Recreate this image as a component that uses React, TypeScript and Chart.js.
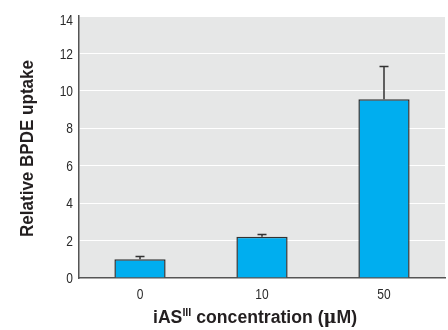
import React, { useEffect, useRef } from "react";
import { Chart, registerables } from "chart.js";

Chart.register(...registerables);

const categories = ["0", "10", "50"];
const uptake = [1.0, 2.2, 9.55];
const errorUpper = [0.15, 0.13, 1.75];
const yTicks = [0, 2, 4, 6, 8, 10, 12, 14];
const yTitle = "Relative BPDE uptake";
const xTitleParts = ["iAS", "III", " concentration (", "\u03bc", "M)"];

const TICK_FONT = '15px "Liberation Sans", Arial, sans-serif';
const TICK_SCALE = 0.8;

const bgPlugin = {
  id: "plotBg",
  beforeDraw(chart: any) {
    const { ctx, chartArea } = chart;
    ctx.save();
    ctx.fillStyle = "#e6e7e7";
    ctx.fillRect(chartArea.left, chartArea.top, chartArea.right - chartArea.left, chartArea.bottom - chartArea.top);
    ctx.restore();
  },
};

const errPlugin = {
  id: "errBars",
  afterDatasetsDraw(chart: any) {
    const { ctx } = chart;
    const meta = chart.getDatasetMeta(0);
    const ys = chart.scales.y;
    ctx.save();
    ctx.strokeStyle = "#333";
    ctx.lineWidth = 1.5;
    meta.data.forEach((el: any, i: number) => {
      const top = ys.getPixelForValue(uptake[i] + errorUpper[i]);
      ctx.beginPath();
      ctx.moveTo(el.x, el.y);
      ctx.lineTo(el.x, top);
      ctx.moveTo(el.x - 4.5, top);
      ctx.lineTo(el.x + 4.5, top);
      ctx.stroke();
    });
    ctx.restore();
  },
};

const tickPlugin = {
  id: "tickLabels",
  afterDraw(chart: any) {
    const { ctx } = chart;
    const ys = chart.scales.y;
    const xs = chart.scales.x;
    ctx.save();
    ctx.fillStyle = "#2a2a2a";
    ctx.font = TICK_FONT;
    ctx.textBaseline = "middle";
    yTicks.forEach((v) => {
      const py = Math.max(ys.getPixelForValue(v), ys.top + 4);
      ctx.save();
      ctx.translate(ys.right - 6, py + 1);
      ctx.scale(TICK_SCALE, 1);
      ctx.textAlign = "right";
      ctx.fillText(String(v), 0, 0);
      ctx.restore();
    });
    categories.forEach((c, i) => {
      const px = xs.getPixelForValue(i);
      ctx.save();
      ctx.translate(px, xs.top + 17);
      ctx.scale(TICK_SCALE, 1);
      ctx.textAlign = "center";
      ctx.fillText(c, 0, 0);
      ctx.restore();
    });
    ctx.restore();
  },
};

const titlePlugin = {
  id: "axisTitles",
  afterDraw(chart: any) {
    const { ctx } = chart;
    ctx.save();
    ctx.fillStyle = "#231f20";
    ctx.font = 'bold 18px "Liberation Sans", Arial, sans-serif';
    const yw = ctx.measureText(yTitle).width;
    const targetY = 177;
    ctx.translate(27, 148.5);
    ctx.rotate(-Math.PI / 2);
    ctx.scale(targetY / yw, 1);
    ctx.textAlign = "center";
    ctx.textBaseline = "middle";
    ctx.fillText(yTitle, 0, 1);
    ctx.restore();

    ctx.save();
    ctx.fillStyle = "#231f20";
    ctx.textBaseline = "alphabetic";
    ctx.textAlign = "left";
    const big = 'bold 18px "Liberation Sans", Arial, sans-serif';
    const small = 'bold 11px "Liberation Sans", Arial, sans-serif';
    const mu = 'bold 18px "DejaVu Serif", serif';
    const fonts = [big, small, big, mu, big];
    const offs = [0, -7, 0, 0, 0];
    let total = 0;
    const widths = xTitleParts.map((p, i) => {
      ctx.font = fonts[i];
      const w = ctx.measureText(p).width;
      total += w;
      return w;
    });
    const targetX = 204;
    ctx.translate(255 - targetX / 2, 323);
    ctx.scale(targetX / total, 1);
    let x = 0;
    xTitleParts.forEach((p, i) => {
      ctx.font = fonts[i];
      ctx.fillText(p, x, offs[i]);
      x += widths[i];
    });
    ctx.restore();
  },
};

export default function App() {
  const ref = useRef<HTMLCanvasElement | null>(null);
  useEffect(() => {
    document.body.style.margin = "0";
    const chart = new Chart(ref.current as HTMLCanvasElement, {
      type: "bar",
      data: {
        labels: categories,
        datasets: [
          {
            data: uptake,
            backgroundColor: "#00aeef",
            borderColor: "#333",
            borderWidth: 1.5,
            barPercentage: 0.42,
            categoryPercentage: 1,
          },
        ],
      },
      options: {
        animation: false,
        responsive: false,
        maintainAspectRatio: false,
        layout: { padding: { top: 16, right: 3, left: 0, bottom: 0 } },
        plugins: { legend: { display: false }, tooltip: { enabled: false } },
        scales: {
          x: {
            offset: true,
            grid: { display: false, drawTicks: false },
            border: { display: true, color: "#555", width: 1.5 },
            ticks: { display: false },
            afterFit(s: any) {
              s.height = 52;
            },
          },
          y: {
            min: 0,
            max: 14,
            afterBuildTicks(s: any) {
              s.ticks = yTicks.map((v) => ({ value: v }));
            },
            grid: { color: "#ffffff", lineWidth: 1, drawTicks: false },
            border: { display: true, color: "#555", width: 1.5 },
            ticks: { display: false },
            afterFit(s: any) {
              s.width = 79;
            },
          },
        },
      },
      plugins: [bgPlugin, errPlugin, tickPlugin, titlePlugin],
    });
    return () => chart.destroy();
  }, []);
  return (
    <div style={{ position: "absolute", left: 0, top: 0, width: 448, height: 330 }}>
      <canvas ref={ref} width={448} height={330} />
    </div>
  );
}
